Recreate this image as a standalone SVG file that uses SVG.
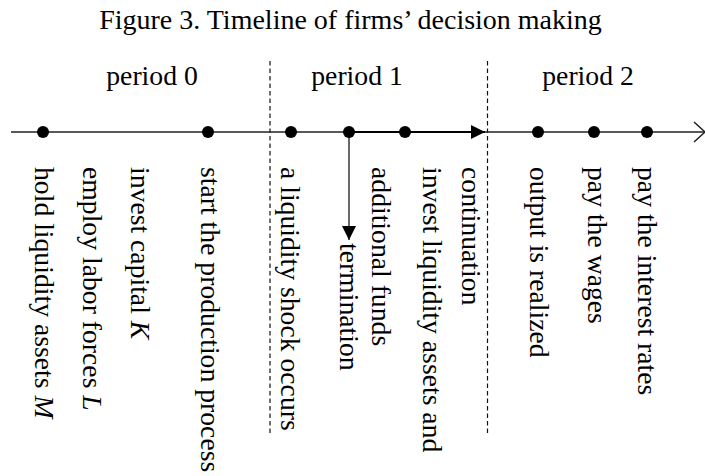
<svg xmlns="http://www.w3.org/2000/svg" width="705" height="476" viewBox="0 0 705 476">
<style>
text{font-family:"Liberation Serif","Times New Roman",serif;font-size:27.7px;fill:#000}
.dot{fill:#000}
.dash{stroke:#111;stroke-width:1.2;stroke-dasharray:4.5 3;fill:none}
.axis{stroke:#222;stroke-width:1.5;fill:none}
</style>
<defs>
<marker id="tri" viewBox="0 0 14 14" refX="14" refY="7" markerWidth="14" markerHeight="14" markerUnits="userSpaceOnUse" orient="auto">
<path d="M0,0 L14,7 L0,14 z" fill="#000"/>
</marker>
</defs>
<g id="title"><text x="350.5" y="29" text-anchor="middle" style="font-size:28px">Figure 3. Timeline of firms’ decision making</text></g>
<g id="periods">
<text x="152" y="85" text-anchor="middle">period 0</text>
<text x="357" y="85" text-anchor="middle">period 1</text>
<text x="588" y="85" text-anchor="middle">period 2</text>
</g>
<g id="connectors">
<line class="dash" x1="270" y1="61" x2="270" y2="435"/>
<line class="dash" x1="487.5" y1="61" x2="487.5" y2="435"/>
<line class="axis" x1="11" y1="132" x2="705" y2="132"/>
<polyline class="axis" points="694,122 705,132 694,142"/>
<line x1="349" y1="132" x2="485" y2="132" stroke="#000" stroke-width="2.2" marker-end="url(#tri)"/>
<line x1="349" y1="132" x2="349" y2="240" stroke="#444" stroke-width="1.6" marker-end="url(#tri)"/>
</g>
<g id="p0-hold"><circle class="dot" cx="43" cy="132" r="6"/><text transform="translate(35,167) rotate(90)">hold liquidity assets <tspan font-style="italic">M</tspan></text></g>
<g id="p0-employ"><text transform="translate(83,167) rotate(90)">employ labor forces <tspan font-style="italic">L</tspan></text></g>
<g id="p0-invest"><text transform="translate(131,167) rotate(90)">invest capital <tspan font-style="italic">K</tspan></text></g>
<g id="p0-start"><circle class="dot" cx="208" cy="132" r="6"/><text transform="translate(201,167) rotate(90)">start the production process</text></g>
<g id="p1-shock"><circle class="dot" cx="291" cy="132" r="6"/><text transform="translate(281,167) rotate(90)">a liquidity shock occurs</text></g>
<g id="p1-decision"><circle class="dot" cx="349" cy="132" r="6"/><text transform="translate(340,243) rotate(90)">termination</text></g>
<g id="p1-invest"><circle class="dot" cx="405" cy="132" r="6"/><text transform="translate(423,167) rotate(90)">invest liquidity assets and</text><text transform="translate(372,167) rotate(90)">additional funds</text></g>
<g id="p1-continuation"><text transform="translate(462,167) rotate(90)">continuation</text></g>
<g id="p2-output"><circle class="dot" cx="538" cy="132" r="6"/><text transform="translate(530,167) rotate(90)">output is realized</text></g>
<g id="p2-wages"><circle class="dot" cx="594" cy="132" r="6"/><text transform="translate(588,167) rotate(90)">pay the wages</text></g>
<g id="p2-interest"><circle class="dot" cx="647" cy="132" r="6"/><text transform="translate(638,167) rotate(90)">pay the interest rates</text></g>
</svg>
